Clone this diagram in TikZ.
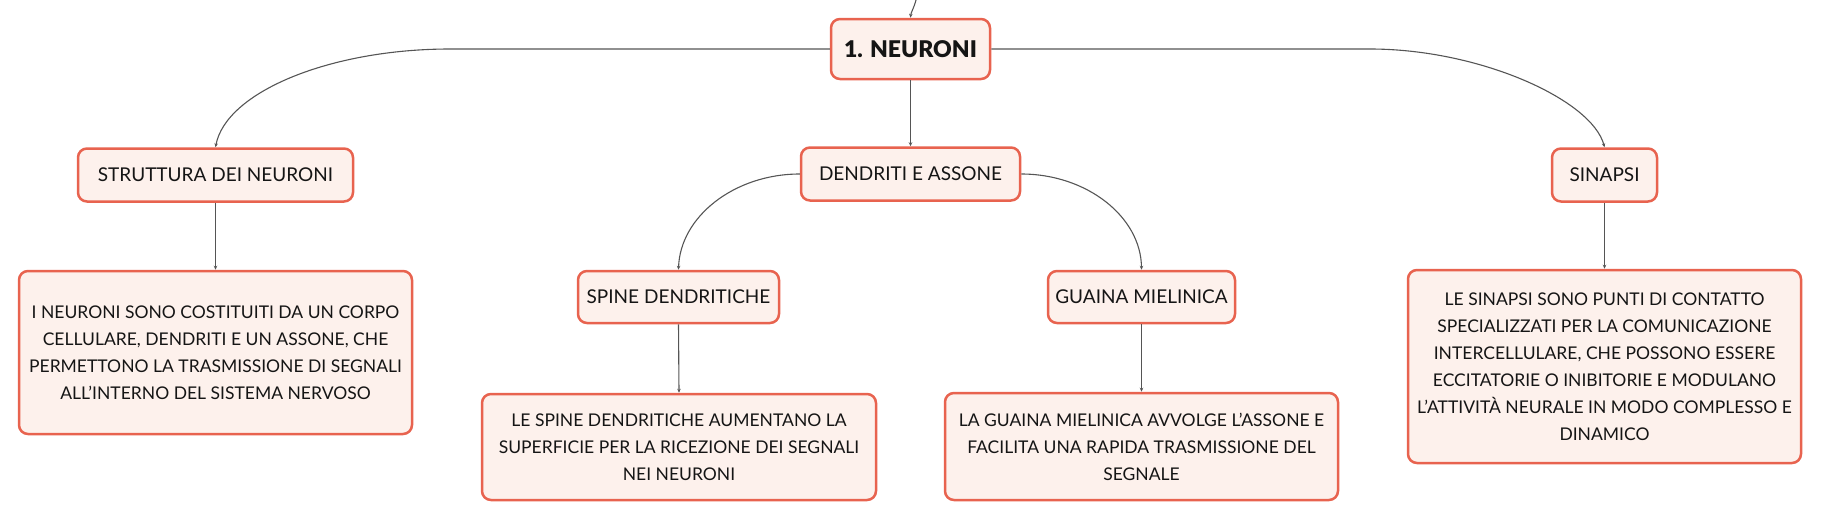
\documentclass[tikz,border=0pt]{standalone}
\usepackage{fontspec}
\setmainfont{Lato}
\IfFontExistsTF{Lato Black}{\newfontfamily\rootfont{Lato Black}}{\newfontfamily\rootfont{Lato}[UprightFont=*-Bold]}
\usetikzlibrary{arrows.meta}
\definecolor{boxborder}{HTML}{E8634F}
\definecolor{boxfill}{HTML}{FDF1EC}
\definecolor{linkgray}{HTML}{555555}
\definecolor{txt}{HTML}{151515}
\tikzset{
  basebox/.style={draw=boxborder, fill=boxfill, line width=2.5pt, rounded corners=9pt,
    text=txt, align=center, inner sep=0pt},
  rootbox/.style={basebox, minimum width=159pt, minimum height=60pt,
    font=\fontsize{23}{28}\rootfont},
  topicbox/.style={basebox, minimum height=53pt, font=\fontsize{19}{23}\selectfont},
  detailbox/.style={basebox, minimum width=393pt, font=\fontsize{17.5}{27}\selectfont},
  link/.style={draw=linkgray, line width=1.1pt, -{Stealth[length=4pt,width=3.5pt]}},
}
\begin{document}
\begin{tikzpicture}[x=1pt,y=-1pt]
\useasboundingbox (0,0) rectangle (1821,520);
% nodes
\node[rootbox] (root) at (910.5,49) {1. NEURONI};
\node[topicbox, minimum width=275pt] (strut) at (215.5,175) {STRUTTURA DEI NEURONI};
\node[topicbox, minimum width=219pt] (dend) at (910.5,174) {DENDRITI E ASSONE};
\node[topicbox, minimum width=105pt] (sinapsi) at (1604.5,175) {SINAPSI};
\node[topicbox, minimum width=201pt, minimum height=52pt] (spine) at (678.5,297) {SPINE DENDRITICHE};
\node[topicbox, minimum width=187pt, minimum height=52pt] (guaina) at (1141.5,297) {GUAINA MIELINICA};
\node[detailbox, minimum height=163pt] (strutd) at (215.5,352.5) {I NEURONI SONO COSTITUITI DA UN CORPO\\CELLULARE, DENDRITI E UN ASSONE, CHE\\PERMETTONO LA TRASMISSIONE DI SEGNALI\\ALL'INTERNO DEL SISTEMA NERVOSO};
\node[detailbox, minimum width=394pt, minimum height=106pt] (spined) at (679,447) {LE SPINE DENDRITICHE AUMENTANO LA\\SUPERFICIE PER LA RICEZIONE DEI SEGNALI\\NEI NEURONI};
\node[detailbox, minimum height=107pt] (guainad) at (1141.5,446.5) {LA GUAINA MIELINICA AVVOLGE L'ASSONE E\\FACILITA UNA RAPIDA TRASMISSIONE DEL\\SEGNALE};
\node[detailbox, minimum height=193pt] (sinapsid) at (1604.5,366.5) {LE SINAPSI SONO PUNTI DI CONTATTO\\SPECIALIZZATI PER LA COMUNICAZIONE\\INTERCELLULARE, CHE POSSONO ESSERE\\ECCITATORIE O INIBITORIE E MODULANO\\L'ATTIVITÀ NEURALE IN MODO COMPLESSO E\\DINAMICO};
\coordinate (parent) at (916,0);
% connectors
\draw[link] (parent) .. controls (914,8) and (911,12) .. (root.north);
\draw[link] (root.west) -- (450,49) .. controls (330,49) and (226,92) .. (strut.north);
\draw[link] (root.east) -- (1370,49) .. controls (1480,49) and (1592,100) .. (sinapsi.north);
\draw[link] (root.south) -- (dend.north);
\draw[link] (dend.west) .. controls (734,174) and (680,217) .. (spine.north);
\draw[link] (dend.east) .. controls (1087,174) and (1141,217) .. (guaina.north);
\draw[link] (strut.south) -- (strutd.north);
\draw[link] (spine.south) -- (spined.north);
\draw[link] (guaina.south) -- (guainad.north);
\draw[link] (sinapsi.south) -- (sinapsid.north);
\end{tikzpicture}
\end{document}
